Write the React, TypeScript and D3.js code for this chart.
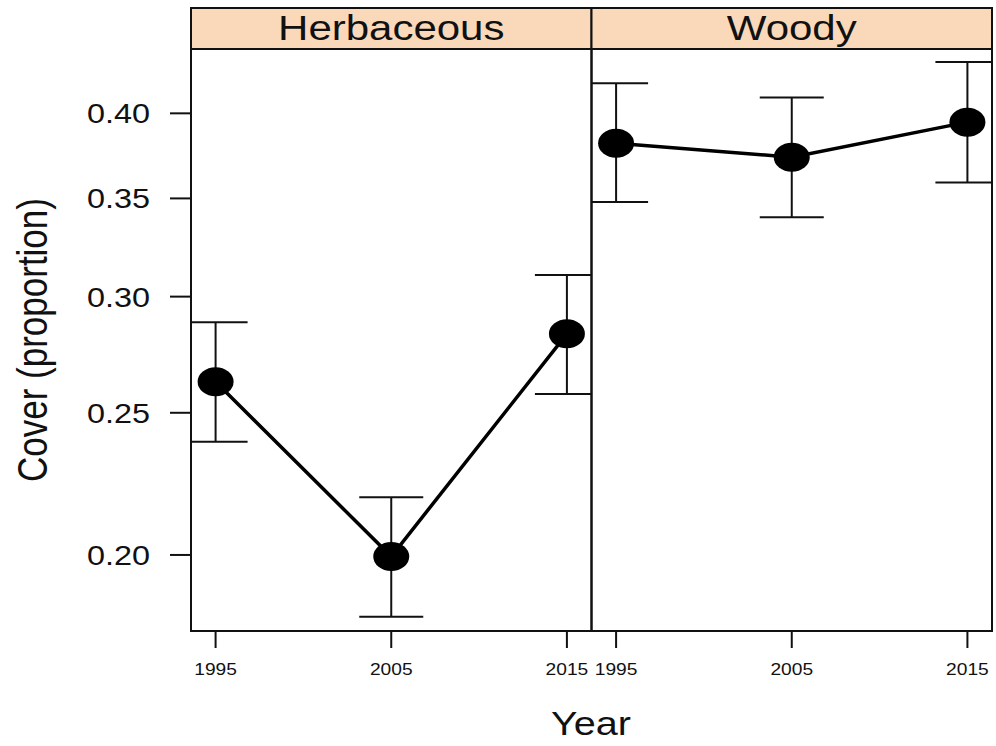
import React, { useEffect, useRef } from 'react';
import * as d3 from 'd3';

// chart data
const years = [1995, 2005, 2015];
const groups = ['Herbaceous', 'Woody'];
const herbMean = [0.2625, 0.1995, 0.283];
const herbLower = [0.2389, 0.1815, 0.2575];
const herbUpper = [0.2882, 0.219, 0.3104];
const woodyMean = [0.3817, 0.3734, 0.3945];
const woodyLower = [0.348, 0.3398, 0.3588];
const woodyUpper = [0.4194, 0.41, 0.4335];
const yTicks = [0.2, 0.25, 0.3, 0.35, 0.4];
const yTickLabels = ['0.20', '0.25', '0.30', '0.35', '0.40'];

const width = 996;
const height = 746;
const font = 'Liberation Sans, Arial, Helvetica, sans-serif';
const stretch = 1.2; // reference text is slightly wide

export default function App() {
  const ref = useRef<SVGSVGElement>(null);

  useEffect(() => {
    const svg = d3.select(ref.current);
    svg.selectAll('*').remove();

    const panelLeft = 191;
    const panelRight = 992;
    const stripTop = 8;
    const panelTop = 49;
    const panelBottom = 631;
    const panelW = (panelRight - panelLeft) / 2;

    const y = d3.scaleLog().domain([0.1775, 0.4425]).range([panelBottom, panelTop]);

    const series = [
      { name: groups[0], mean: herbMean, lower: herbLower, upper: herbUpper },
      { name: groups[1], mean: woodyMean, lower: woodyLower, upper: woodyUpper },
    ];

    svg.append('rect').attr('width', width).attr('height', height).attr('fill', '#ffffff');

    const stretchedText = (
      g: d3.Selection<any, any, any, any>,
      x: number,
      yy: number,
      txt: string,
      size: number,
      anchor: string
    ) =>
      g
        .append('text')
        .attr('transform', `translate(${x},${yy}) scale(${stretch},1)`)
        .attr('text-anchor', anchor)
        .attr('font-family', font)
        .attr('font-size', size)
        .attr('fill', '#111')
        .text(txt);

    series.forEach((s, i) => {
      const x0 = panelLeft + i * panelW;
      const x = d3.scaleLinear().domain([1993.6, 2016.4]).range([x0, x0 + panelW]);
      const g = svg.append('g');

      const clipId = 'clip-' + i;
      svg
        .append('defs')
        .append('clipPath')
        .attr('id', clipId)
        .append('rect')
        .attr('x', x0)
        .attr('y', panelTop)
        .attr('width', panelW)
        .attr('height', panelBottom - panelTop);

      // strip
      g.append('rect')
        .attr('x', x0)
        .attr('y', stripTop)
        .attr('width', panelW)
        .attr('height', panelTop - stripTop)
        .attr('fill', '#f9d9b9')
        .attr('stroke', '#111')
        .attr('stroke-width', 2);
      stretchedText(g, x0 + panelW / 2, 40, s.name, 35, 'middle');

      const plot = g.append('g').attr('clip-path', `url(#${clipId})`);

      // error bars
      const capHalf = 32;
      years.forEach((yr, k) => {
        const cx = x(yr);
        plot.append('line')
          .attr('x1', cx).attr('x2', cx)
          .attr('y1', y(s.lower[k])).attr('y2', y(s.upper[k]))
          .attr('stroke', '#111').attr('stroke-width', 2);
        [s.lower[k], s.upper[k]].forEach((v) => {
          plot.append('line')
            .attr('x1', cx - capHalf).attr('x2', cx + capHalf)
            .attr('y1', y(v)).attr('y2', y(v))
            .attr('stroke', '#111').attr('stroke-width', 2);
        });
      });

      // connecting line
      const line = d3
        .line<number>()
        .x((_, k) => x(years[k]))
        .y((v) => y(v));
      plot.append('path')
        .attr('d', line(s.mean))
        .attr('fill', 'none')
        .attr('stroke', '#000')
        .attr('stroke-width', 3.5);

      // points
      plot.selectAll('ellipse')
        .data(s.mean)
        .enter()
        .append('ellipse')
        .attr('cx', (_, k) => x(years[k]))
        .attr('cy', (v) => y(v))
        .attr('rx', 18)
        .attr('ry', 14.5)
        .attr('fill', '#000');

      // panel frame
      g.append('rect')
        .attr('x', x0)
        .attr('y', panelTop)
        .attr('width', panelW)
        .attr('height', panelBottom - panelTop)
        .attr('fill', 'none')
        .attr('stroke', '#111')
        .attr('stroke-width', 2);

      // x axis ticks
      years.forEach((yr) => {
        g.append('line')
          .attr('x1', x(yr)).attr('x2', x(yr))
          .attr('y1', panelBottom).attr('y2', panelBottom + 17)
          .attr('stroke', '#111').attr('stroke-width', 2);
        stretchedText(g, x(yr), 675, String(yr), 16, 'middle');
      });
    });

    // y axis on the left panel
    const ax = svg.append('g');
    yTicks.forEach((t, k) => {
      ax.append('line')
        .attr('x1', panelLeft - 21).attr('x2', panelLeft)
        .attr('y1', y(t)).attr('y2', y(t))
        .attr('stroke', '#111').attr('stroke-width', 2);
      stretchedText(ax, 150, y(t) + 10, yTickLabels[k], 27, 'end');
    });

    // axis titles
    svg.append('text')
      .attr('transform', `translate(47,340) rotate(-90) scale(1,${stretch})`)
      .attr('text-anchor', 'middle')
      .attr('font-family', font)
      .attr('font-size', 35)
      .attr('fill', '#111')
      .text('Cover (proportion)');

    stretchedText(svg, 591, 735, 'Year', 33, 'middle');
  }, []);

  return (
    <div style={{ position: 'absolute', left: 0, top: 0 }}>
      <svg ref={ref} width={width} height={height} style={{ display: 'block' }} />
    </div>
  );
}
